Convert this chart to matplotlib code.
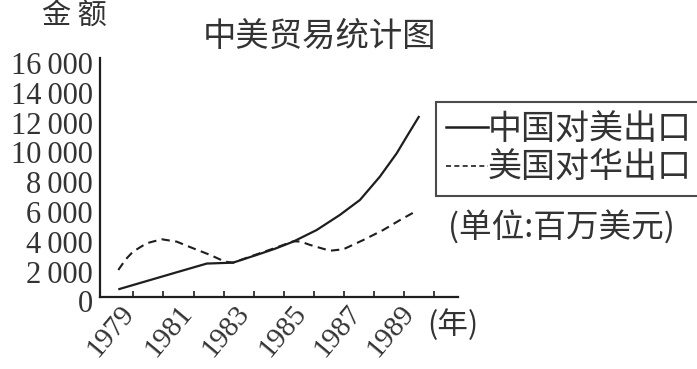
import matplotlib
matplotlib.use("Agg")
import matplotlib.pyplot as plt
import matplotlib.transforms as mtransforms
from matplotlib.lines import Line2D

# ---- data ----
china_years = [1979.0, 1980.0, 1981.0, 1981.94, 1982.81, 1983.6, 1984.2, 1984.81,
               1985.59, 1986.36, 1987.03, 1987.69, 1988.25, 1988.58, 1989.0]
china_values = [480, 1070, 1660, 2210, 2270, 2790, 3200, 3680,
                4460, 5470, 6480, 8040, 9610, 10720, 12110]

us_years = [1979.0, 1979.25, 1979.49, 1979.94, 1980.44, 1980.94, 1981.49, 1982.05,
            1982.54, 1982.81, 1983.6, 1984.2, 1984.81, 1985.05, 1985.37, 1986.03,
            1986.48, 1987.14, 1987.8, 1988.36, 1988.86]
us_values = [1780, 2500, 3010, 3570, 3840, 3680, 3230, 2790,
             2340, 2270, 2830, 3250, 3700, 3690, 3460, 3070,
             3170, 3790, 4460, 5130, 5690]

year_labels = ["1979", "1981", "1983", "1985", "1987", "1989"]
y_ticks = [0, 2000, 4000, 6000, 8000, 10000, 12000, 14000, 16000]
y_tick_labels = ["0", "2\u2009000", "4\u2009000", "6\u2009000", "8\u2009000",
                 "10\u2009000", "12\u2009000", "14\u2009000", "16\u2009000"]
tick_mark_years = [1979.5 + i for i in range(11)]

series_names = ["中国对美出口", "美国对华出口"]

# ---- layout ----
W, H = 697, 369
fig = plt.figure(figsize=(W / 100, H / 100), dpi=100)
fig.patch.set_facecolor("white")

ax_left, ax_right = 100, 458
ax_top, ax_bottom = 58, 296.5
ax = fig.add_axes([ax_left / W, (H - ax_bottom) / H,
                   (ax_right - ax_left) / W, (ax_bottom - ax_top) / H])

px_per_year = 30.1
x0 = 1979 + (ax_left - 118.3) / px_per_year
x1 = 1979 + (ax_right - 118.3) / px_per_year
ax.set_xlim(x0, x1)
ax.set_ylim(0, 16000)

cjk = ["Noto Sans CJK SC", "DejaVu Sans"]
serif = "Liberation Serif"
ink = "#1e1e1e"

ax.plot(china_years, china_values, color=ink, lw=1.6, solid_capstyle="butt")
ax.plot(us_years, us_values, color=ink, lw=1.5, dashes=(4, 2.6))

for s in ["top", "right"]:
    ax.spines[s].set_visible(False)
for s in ["left", "bottom"]:
    ax.spines[s].set_linewidth(1.6)
    ax.spines[s].set_color(ink)

# y axis
ax.set_yticks(y_ticks)
ax.set_yticklabels(y_tick_labels, fontfamily=serif, fontsize=22, color="#333333")
ax.tick_params(axis="y", length=0, pad=5)
offset = mtransforms.ScaledTranslation(0, -5 / 100, fig.dpi_scale_trans)
for lab in ax.get_yticklabels():
    lab.set_transform(lab.get_transform() + offset)

# x axis: tick marks between years, labels on their own positions
label_px = [140, 198, 255, 312, 367, 420]
label_pos = [1979 + (p - 118.3) / px_per_year for p in label_px]
ax.set_xticks(label_pos)
ax.set_xticklabels(year_labels, fontfamily=serif, fontsize=21, rotation=50,
                   ha="right", color="#333333")
ax.tick_params(axis="x", which="major", length=0, pad=3)
ax.set_xticks(tick_mark_years, minor=True)
ax.tick_params(axis="x", which="minor", direction="in", length=4, width=1.2,
               color=ink)

# texts
fig.text(320 / W, 1 - 36 / H, "中美贸易统计图", family=cjk, fontsize=24,
         ha="center", va="center", color="#333333")
fig.text(74 / W, 1 - 16 / H, "金 额", family=cjk, fontsize=21,
         ha="center", va="center", color="#333333")
fig.text(453 / W, 1 - 325 / H, "(年)", family=cjk, fontsize=22,
         ha="center", va="center", color="#333333")
fig.text(561 / W, 1 - 228 / H, "(单位:百万美元)", family=cjk, fontsize=23.5,
         ha="center", va="center", color="#333333")

handles = [Line2D([], [], color=ink, lw=1.8),
           Line2D([], [], color=ink, lw=1.2, dashes=(3, 2))]
leg = fig.legend(handles, series_names, loc="upper left",
                 bbox_to_anchor=(436 / W, 1 - 102 / H), bbox_transform=fig.transFigure,
                 prop={"family": cjk, "size": 24.5}, frameon=True, fancybox=False,
                 handlelength=1.25, handletextpad=0.0, borderpad=0.28,
                 labelspacing=0.14, borderaxespad=0, handleheight=0.7)
leg.get_frame().set_edgecolor(ink)
leg.get_frame().set_linewidth(1.5)
for t in leg.get_texts():
    t.set_color("#333333")

fig.savefig("out.png", dpi=100, facecolor="white")
